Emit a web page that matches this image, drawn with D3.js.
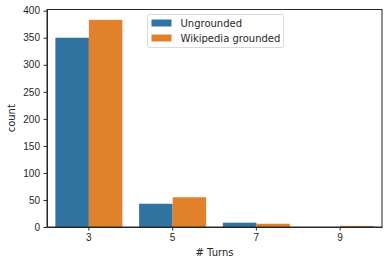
<!DOCTYPE html>
<html>
<head>
<meta charset="utf-8">
<script src="https://cdn.jsdelivr.net/npm/d3@7"></script>
<style>
  body { margin: 0; background: #fff; }
  svg { display: block; font-family: "DejaVu Sans", sans-serif; }
  .axis text { font-size: 10px; fill: #262626; }
  .axis path, .axis line { stroke: #262626; }
</style>
</head>
<body>
<svg id="chart" width="389" height="265"></svg>
<script>
const turns = ["3", "5", "7", "9"];
const seriesNames = ["Ungrounded", "Wikipedia grounded"];
const ungrounded = [350, 43, 8, 0];
const wikiGrounded = [383, 55, 6, 2];
const yTicks = [0, 50, 100, 150, 200, 250, 300, 350, 400];
const colors = ["#3274a1", "#e1812c"];

const margin = { top: 9.5, right: 7, bottom: 38, left: 47 };
const width = 389 - margin.left - margin.right;
const height = 265 - margin.top - margin.bottom;

const svg = d3.select("#chart");
const g = svg.append("g")
  .attr("transform", `translate(${margin.left},${margin.top})`);

const x = d3.scaleBand().domain(turns).range([0, width]).paddingInner(0.2).paddingOuter(0.1);
const xSub = d3.scaleBand().domain(seriesNames).range([0, x.bandwidth()]);
const y = d3.scaleLinear().domain([0, 402.2]).range([height, 0]);

const data = turns.map((t, i) => ({ turn: t, values: [ungrounded[i], wikiGrounded[i]] }));

// bars
const grp = g.selectAll(".grp")
  .data(data)
  .enter().append("g")
  .attr("transform", d => `translate(${x(d.turn)},0)`);

grp.selectAll("rect")
  .data(d => d.values.map((v, j) => ({ name: seriesNames[j], v: v, j: j })))
  .enter().append("rect")
  .attr("x", d => xSub(d.name))
  .attr("y", d => y(d.v))
  .attr("width", xSub.bandwidth())
  .attr("height", d => height - y(d.v))
  .attr("fill", d => colors[d.j]);

// axes
g.append("g")
  .attr("class", "axis")
  .attr("transform", `translate(0,${height})`)
  .call(d3.axisBottom(x).tickSize(3.5).tickPadding(3.5).tickSizeOuter(0));

g.append("g")
  .attr("class", "axis")
  .call(d3.axisLeft(y).tickValues(yTicks).tickSize(3.5).tickPadding(3.5).tickSizeOuter(0));

// frame (top/right spines)
g.append("rect")
  .attr("width", width).attr("height", height)
  .attr("fill", "none").attr("stroke", "#262626").attr("stroke-width", 1);

// labels
svg.append("text")
  .attr("x", margin.left + width / 2)
  .attr("y", 256)
  .attr("text-anchor", "middle")
  .attr("font-size", 10).attr("fill", "#262626")
  .text("# Turns");

svg.append("text")
  .attr("transform", `translate(15,${margin.top + height / 2}) rotate(-90)`)
  .attr("text-anchor", "middle")
  .attr("font-size", 10).attr("fill", "#262626")
  .text("count");

// legend
const lg = svg.append("g").attr("transform", "translate(147.5,14.5)");
lg.append("rect")
  .attr("width", 136).attr("height", 33).attr("rx", 2)
  .attr("fill", "#fff").attr("fill-opacity", 0.8)
  .attr("stroke", "#d9d9d9");
seriesNames.forEach((name, i) => {
  lg.append("rect")
    .attr("x", 4).attr("y", 5 + i * 15)
    .attr("width", 20).attr("height", 7)
    .attr("fill", colors[i]);
  lg.append("text")
    .attr("x", 33).attr("y", 12 + i * 15)
    .attr("font-size", 10).attr("fill", "#262626")
    .text(name);
});
</script>
</body>
</html>
